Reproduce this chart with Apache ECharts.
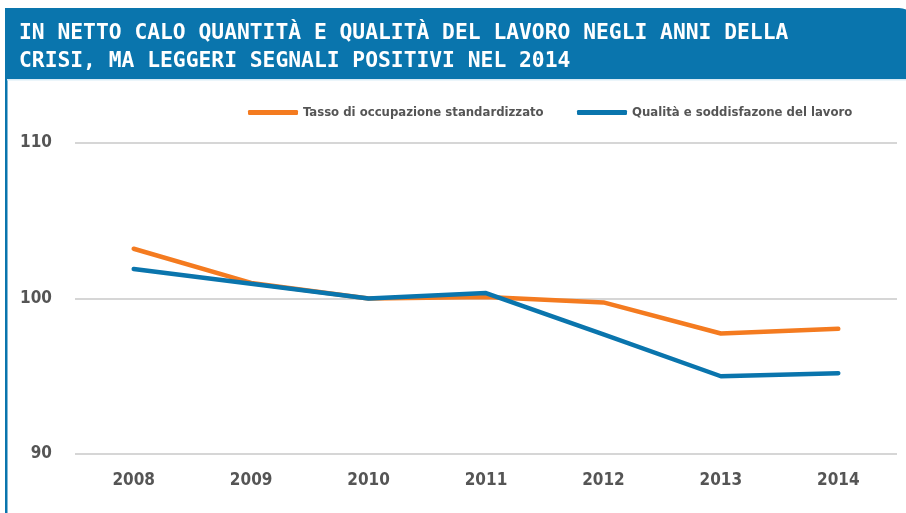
<!DOCTYPE html>
<html>
<head>
<meta charset="utf-8">
<script src="https://cdn.jsdelivr.net/npm/echarts@6/dist/echarts.min.js"></script>
<style>
  html, body { margin: 0; padding: 0; background: #fff; }
  #chart { width: 906px; height: 513px; }
</style>
</head>
<body>
<div id="chart"></div>
<script>
// dati
var anni = ['2008', '2009', '2010', '2011', '2012', '2013', '2014'];
var occupazione = [103.2, 101.0, 100.0, 100.1, 99.75, 97.75, 98.05];
var qualita = [101.9, 100.95, 100.0, 100.35, 97.7, 95.0, 95.2];
var titolo = 'IN NETTO CALO QUANTITÀ E QUALITÀ DEL LAVORO NEGLI ANNI DELLA\nCRISI, MA LEGGERI SEGNALI POSITIVI NEL 2014';
var nomeOcc = 'Tasso di occupazione standardizzato';
var nomeQual = 'Qualità e soddisfazone del lavoro';

var arancio = '#f47b20';
var blu = '#0a75ad';
var narrow = '"DejaVu Sans Condensed", "Liberation Sans Narrow", sans-serif';

var legendaText = { color: '#555', fontFamily: narrow, fontWeight: 'bold', fontSize: 13 };

var myChart = echarts.init(document.getElementById('chart'));
myChart.setOption({
  animation: false,
  graphic: [
    // barra del titolo
    { type: 'rect', left: 5, top: 8, shape: { width: 910, height: 71, r: [0, 16, 0, 0] }, style: { fill: blu }, z: 0 },
    { type: 'rect', left: 5, top: 79, shape: { width: 2.5, height: 440 }, style: { fill: blu }, z: 0 },
    { type: 'rect', left: 7, top: 79, shape: { width: 900, height: 1.5 }, style: { fill: '#d8ebf5' }, z: 0 },
    {
      type: 'text', left: 19, top: 19, z: 10,
      style: {
        text: titolo,
        fill: '#fff',
        font: 'bold 21.3px "DejaVu Sans Mono", monospace',
        lineHeight: 28
      }
    }
  ],
  legend: [{
    left: 243,
    top: 101,
    itemWidth: 50,
    itemHeight: 5,
    icon: 'roundRect',
    textStyle: legendaText,
    data: [nomeOcc]
  }, {
    left: 572,
    top: 101,
    itemWidth: 50,
    itemHeight: 5,
    icon: 'roundRect',
    textStyle: legendaText,
    data: [nomeQual]
  }],
  grid: {
    left: 75,
    right: 9,
    top: 143,
    bottom: 59,
    containLabel: false
  },
  xAxis: {
    type: 'category',
    data: anni,
    boundaryGap: true,
    axisLine: { show: false },
    axisTick: { show: false },
    axisLabel: { color: '#555', fontFamily: narrow, fontWeight: 'bold', fontSize: 17, margin: 18 }
  },
  yAxis: {
    type: 'value',
    min: 90,
    max: 110,
    interval: 10,
    axisLine: { show: false },
    axisTick: { show: false },
    splitLine: { lineStyle: { color: '#c8c8c8', width: 1.5 } },
    axisLabel: { color: '#555', fontFamily: narrow, fontWeight: 'bold', fontSize: 17, margin: 23 }
  },
  series: [{
    name: nomeOcc,
    type: 'line',
    data: occupazione,
    symbol: 'none',
    itemStyle: { color: arancio },
    lineStyle: { color: arancio, width: 4.5, cap: 'round', join: 'round' },
    z: 2
  }, {
    name: nomeQual,
    type: 'line',
    data: qualita,
    symbol: 'none',
    itemStyle: { color: blu },
    lineStyle: { color: blu, width: 4.5, cap: 'round', join: 'round' },
    z: 3
  }]
});
</script>
</body>
</html>
